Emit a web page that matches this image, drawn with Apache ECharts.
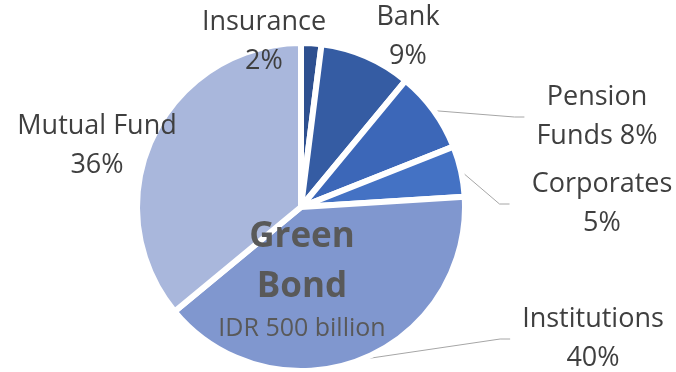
<!DOCTYPE html>
<html>
<head>
<meta charset="utf-8">
<script src="https://cdn.jsdelivr.net/npm/echarts@6/dist/echarts.min.js"></script>
<style>
  html, body { margin: 0; padding: 0; background: #fff; }
  #chart { width: 676px; height: 372px; }
</style>
</head>
<body>
<div id="chart"></div>
<script>
// data
var categories = ['Insurance', 'Bank', 'Pension Funds', 'Corporates', 'Institutions', 'Mutual Fund'];
var shares = [2, 9, 8, 5, 40, 36];
var sliceColors = ['#2E5090', '#355CA3', '#3C67B8', '#4472C4', '#8097CF', '#A9B7DC'];
var centerTitle = ['Green', 'Bond'];
var centerSub = 'IDR 500 billion';

// where each label sits (center of text block)
var labelSpots = [[264, 42], [408, 37], [597, 117], [602, 204], [593, 339], [97, 146]];
var withLine = [false, false, true, true, true, false];

var chart = echarts.init(document.getElementById('chart'));

var pieData = categories.map(function (name, i) {
    return {
        name: name,
        value: shares[i],
        itemStyle: { color: sliceColors[i] },
        labelLine: { show: withLine[i] }
    };
});

var option = {
    animation: false,
    series: [{
        type: 'pie',
        center: [301, 207],
        radius: [0, 164],
        startAngle: 90,
        clockwise: true,
        itemStyle: {
            borderColor: '#fff',
            borderWidth: 6
        },
        label: {
            show: true,
            position: 'outside',
            fontFamily: 'Open Sans',
            fontSize: 27,
            lineHeight: 39,
            color: '#3F3F3F',
            align: 'center',
            overflow: 'none',
            padding: [0, 12],
            formatter: function (p) {
                if (p.name == 'Pension Funds') return 'Pension\nFunds ' + p.value + '%';
                return p.name + '\n' + p.value + '%';
            }
        },
        labelLine: {
            length: 20,
            length2: 10,
            lineStyle: { color: '#A6A6A6', width: 1 }
        },
        labelLayout: function (params) {
            var s = labelSpots[params.dataIndex];
            return {
                x: s[0],
                y: s[1],
                align: 'center',
                verticalAlign: 'middle'
            };
        },
        data: pieData
    }],
    graphic: [
        {
            type: 'text',
            z: 100,
            x: 302, y: 262,
            style: {
                text: centerTitle.join('\n'),
                align: 'center',
                verticalAlign: 'middle',
                font: 'bold 35px "Open Sans"',
                lineHeight: 50,
                fill: '#595959'
            }
        },
        {
            type: 'text',
            z: 100,
            x: 302, y: 329,
            style: {
                text: centerSub,
                align: 'center',
                verticalAlign: 'middle',
                font: '25px "Open Sans"',
                fill: '#595959'
            }
        }
    ]
};

chart.setOption(option);
</script>
</body>
</html>
